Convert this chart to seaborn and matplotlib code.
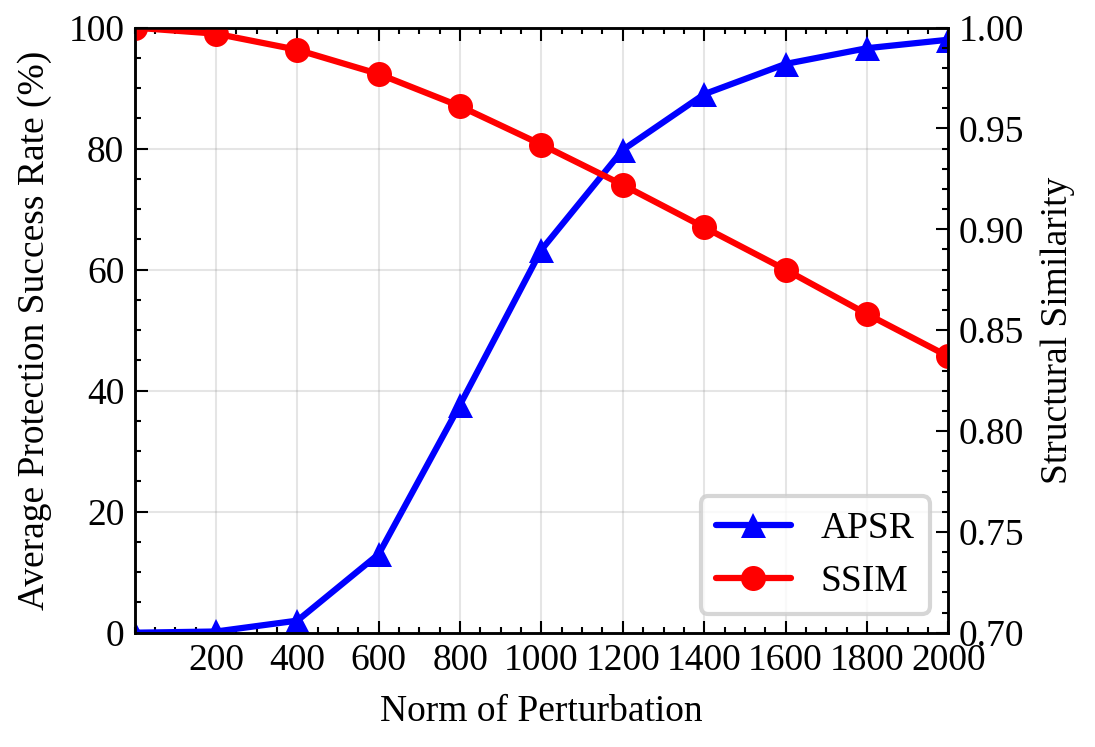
import numpy as np
import pandas as pd
import seaborn as sns
import matplotlib.pyplot as plt
from matplotlib.ticker import MultipleLocator

norm = [0, 200, 400, 600, 800, 1000, 1200, 1400, 1600, 1800, 2000]
apsr = [0.0, 0.2, 2.0, 13.0, 37.7, 63.3, 79.8, 89.0, 94.0, 96.6, 98.0]
ssim = [1.000, 0.997, 0.989, 0.977, 0.961, 0.942, 0.922, 0.901, 0.880, 0.858, 0.837]

sns.set_theme(style='ticks')
plt.rcParams['font.family'] = ['Liberation Serif', 'DejaVu Serif']
plt.rcParams.update({
    'font.size': 9,
    'axes.labelsize': 9,
    'xtick.labelsize': 9,
    'ytick.labelsize': 9,
    'legend.fontsize': 9,
    'text.color': 'black',
    'axes.labelcolor': 'black',
    'xtick.color': 'black',
    'ytick.color': 'black',
    'axes.edgecolor': 'black',
    'xtick.direction': 'in',
    'ytick.direction': 'in',
    'xtick.major.size': 3,
    'ytick.major.size': 3,
    'xtick.minor.size': 1.5,
    'ytick.minor.size': 1.5,
    'xtick.major.width': 0.5,
    'ytick.major.width': 0.5,
    'xtick.minor.width': 0.5,
    'ytick.minor.width': 0.5,
    'axes.linewidth': 0.6,
    'xtick.top': True,
    'xtick.major.pad': 2.5,
    'ytick.major.pad': 2.5,
})

df = pd.DataFrame({'norm': norm, 'APSR': apsr, 'SSIM': ssim})

fig, ax = plt.subplots(figsize=(3.65, 2.49), dpi=300)
ax2 = ax.twinx()

sns.lineplot(data=df, x='norm', y='APSR', ax=ax, color='blue', marker='^',
             markersize=6, markeredgewidth=0, linewidth=1.5, label='APSR', legend=False)
sns.lineplot(data=df, x='norm', y='SSIM', ax=ax2, color='red', marker='o',
             markersize=6, markeredgewidth=0, linewidth=1.5, label='SSIM', legend=False)

ax.set_xlim(0, 2000)
ax.set_ylim(0, 100)
ax2.set_ylim(0.70, 1.00)
ax.set_xticks(range(200, 2001, 200))
ax.xaxis.set_minor_locator(MultipleLocator(50))
ax.yaxis.set_minor_locator(MultipleLocator(5))
ax2.yaxis.set_minor_locator(MultipleLocator(0.01))
ax.tick_params(which='both', direction='in', top=True, right=False)
ax2.tick_params(which='both', direction='in')
ax2.set_yticks(np.arange(0.70, 1.001, 0.05))
ax2.set_yticklabels(['%.2f' % v for v in np.arange(0.70, 1.001, 0.05)])

ax.grid(True, color='gray', alpha=0.2, linewidth=0.5)
ax.set_xlabel('Norm of Perturbation')
ax.set_ylabel('Average Protection Success Rate (%)')
ax2.set_ylabel('Structural Similarity')

h1, l1 = ax.get_legend_handles_labels()
h2, l2 = ax2.get_legend_handles_labels()
leg = ax2.legend(h1 + h2, l1 + l2, loc='lower right', frameon=True, fancybox=True)
leg.get_frame().set_edgecolor('#cccccc')
leg.get_frame().set_linewidth(1.0)

fig.subplots_adjust(left=0.123, right=0.866, top=0.963, bottom=0.153)
fig.savefig('out.png', dpi=300)
